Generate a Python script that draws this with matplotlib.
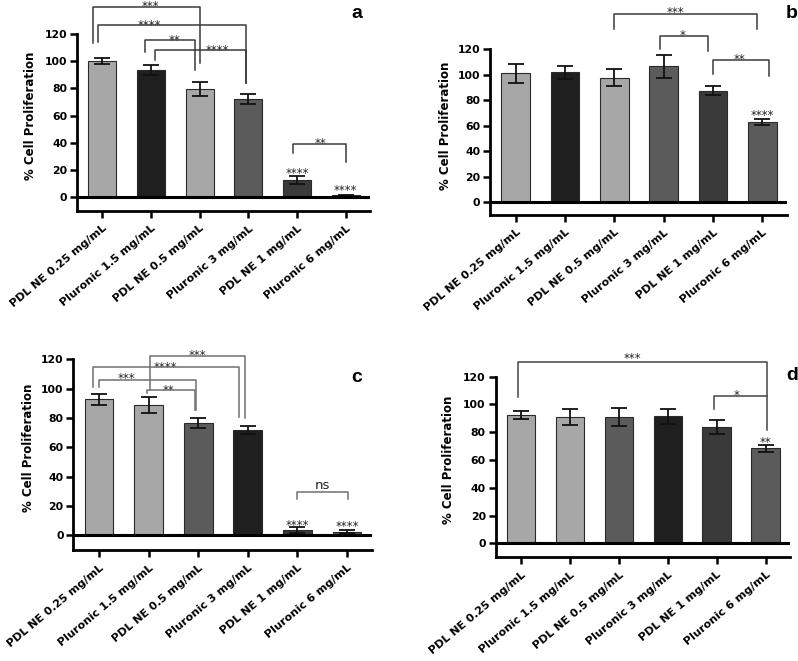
import matplotlib
matplotlib.use('Agg')
import matplotlib.pyplot as plt
import numpy as np

plt.rcParams['font.family'] = ['DejaVu Sans']

categories = ["PDL NE 0.25 mg/mL", "Pluronic 1.5 mg/mL", "PDL NE 0.5 mg/mL",
              "Pluronic 3 mg/mL", "PDL NE 1 mg/mL", "Pluronic 6 mg/mL"]
yticks = [0, 20, 40, 60, 80, 100, 120]

vals_a = [100.1, 93.5, 79.8, 72.1, 12.8, 1.2]
err_a = [2.5, 4.0, 5.2, 3.5, 3.0, 0.5]
vals_b = [101.2, 102.0, 97.8, 106.7, 87.5, 62.9]
err_b = [7.5, 5.0, 6.4, 8.9, 3.4, 2.5]
vals_c = [92.7, 88.6, 76.6, 71.8, 3.6, 2.5]
err_c = [3.9, 5.5, 3.6, 2.6, 1.8, 0.9]
vals_d = [92.6, 91.0, 91.0, 91.4, 83.8, 68.4]
err_d = [3.0, 6.0, 6.8, 5.6, 4.8, 2.3]

LIGHT, BLACK, MID, DARK = '#a7a7a7', '#1f1f1f', '#5b5b5b', '#3a3a3a'
colors_a = [LIGHT, BLACK, LIGHT, MID, DARK, MID]
colors_b = [LIGHT, BLACK, LIGHT, MID, DARK, MID]
colors_c = [LIGHT, LIGHT, MID, BLACK, DARK, MID]
colors_d = [LIGHT, LIGHT, MID, BLACK, DARK, MID]

# significance brackets: (x_left, x_right, y_top, y_left_end, y_right_end)
brackets_a = [(-0.2, 2.0, 139.9, 113.6, 98.6), (-0.08, 2.96, 126.9, 114.1, 83.9),
              (0.88, 1.9, 115.3, 106.7, 93.7), (1.09, 2.96, 108.5, 100.6, 83.9),
              (3.91, 5.0, 38.8, 32.4, 25.8)]
labels_a = [(0.99, 143.0, '***'), (0.97, 129.0, '****'), (1.48, 118.0, '**'),
            (2.36, 110.7, '****'), (4.48, 42.0, '**'), (4.0, 19.6, '****'), (5.0, 7.4, '****')]
brackets_b = [(2.0, 4.9, 147.5, 135.7, 135.7), (2.93, 3.9, 130.7, 120.0, 118.9),
              (4.0, 5.14, 111.6, 100.6, 99.0)]
labels_b = [(3.24, 151.4, '***'), (3.38, 133.3, '*'), (4.53, 114.7, '**'), (5.0, 70.2, '****')]
brackets_c = [(1.02, 2.95, 122.3, 99.1, 79.8), (-0.13, 2.83, 115.0, 101.4, 80.9),
              (0.0, 1.96, 106.1, 101.4, 85.5), (0.96, 1.94, 99.1, 97.3, 85.5),
              (4.0, 5.03, 29.3, 24.5, 24.5)]
labels_c = [(1.99, 125.2, '***'), (1.33, 116.8, '****'), (0.545, 109.1, '***'),
            (1.4, 101.4, '**'), (4.5, 33.9, 'ns'), (4.01, 9.3, '****'), (5.0, 8.2, '****')]
brackets_d = [(-0.06, 5.03, 130.3, 105.1, 81.6), (3.95, 5.03, 106.1, 96.5, 106.1)]
labels_d = [(2.27, 135.6, '***'), (4.41, 108.7, '*'), (5.0, 74.9, '**')]

W, H = 798, 661
fig = plt.figure(figsize=(W / 100, H / 100), dpi=100)


def pos(left, right, top, bottom):
    return [left / W, 1 - bottom / H, (right - left) / W, (bottom - top) / H]


panels = [
    (pos(77, 370, 34, 210.6), vals_a, err_a, colors_a, brackets_a, labels_a, '#3a3a3a', 'a', (357, 13), -0.137),
    (pos(490, 787, 49.3, 214.7), vals_b, err_b, colors_b, brackets_b, labels_b, '#3a3a3a', 'b', (792, 13), -0.129),
    (pos(73.3, 371.7, 359.3, 550), vals_c, err_c, colors_c, brackets_c, labels_c, '#707070', 'c', (357, 377), -0.128),
    (pos(495.5, 790, 376.7, 557.2), vals_d, err_d, colors_d, brackets_d, labels_d, '#454545', 'd', (792, 376), -0.1375),
]

for rect, vals, errs, cols, brs, labs, bcol, letter, lpos, ylx in panels:
    ax = fig.add_axes(rect)
    x = np.arange(len(categories))
    ax.bar(x, vals, width=0.58, color=cols, edgecolor='#2a2a2a', linewidth=0.8, zorder=2)
    ax.errorbar(x, vals, yerr=errs, fmt='none', ecolor='#111111', elinewidth=1.3,
                capsize=6, capthick=1.3, zorder=3)
    ax.set_xlim(-0.52, 5.5)
    ax.set_ylim(-10, 120)
    ax.axhline(0, color='black', lw=2.2, zorder=4)
    for s in ['top', 'right']:
        ax.spines[s].set_visible(False)
    ax.spines['left'].set_linewidth(2.0)
    ax.spines['bottom'].set_linewidth(2.0)
    ax.spines['left'].set_bounds(-10, 120)
    ax.set_yticks(yticks)
    ax.set_yticklabels([str(t) for t in yticks], fontweight='bold', fontsize=7.8)
    ax.set_xticks(x)
    ax.set_xticklabels(categories, rotation=40, ha='right', va='top', rotation_mode='anchor',
                       fontweight='bold', fontsize=8)
    ax.tick_params(axis='both', length=5, width=1.8, pad=2)
    ax.tick_params(axis='x', pad=4)
    ax.set_ylabel('% Cell Proliferation', fontweight='bold', fontsize=8.5)
    ax.yaxis.set_label_coords(ylx, 0.5 + 5 / 130)
    for (x1, x2, yt, y1, y2) in brs:
        ax.plot([x1, x1, x2, x2], [y1, yt, yt, y2], color=bcol, lw=1.1, clip_on=False, zorder=5)
    for (tx, ty, t) in labs:
        if t == 'ns':
            ax.text(tx, ty, t, ha='center', va='center', fontsize=9.5, color='#222222', clip_on=False)
        else:
            ax.text(tx, ty - 2.5, t, ha='center', va='center', fontsize=8.5, color='#222222', clip_on=False)
    fig.text(lpos[0] / W, 1 - lpos[1] / H, letter, fontsize=14, fontweight='bold',
             ha='center', va='center', family='Liberation Sans')

fig.savefig('out.png', dpi=100)
